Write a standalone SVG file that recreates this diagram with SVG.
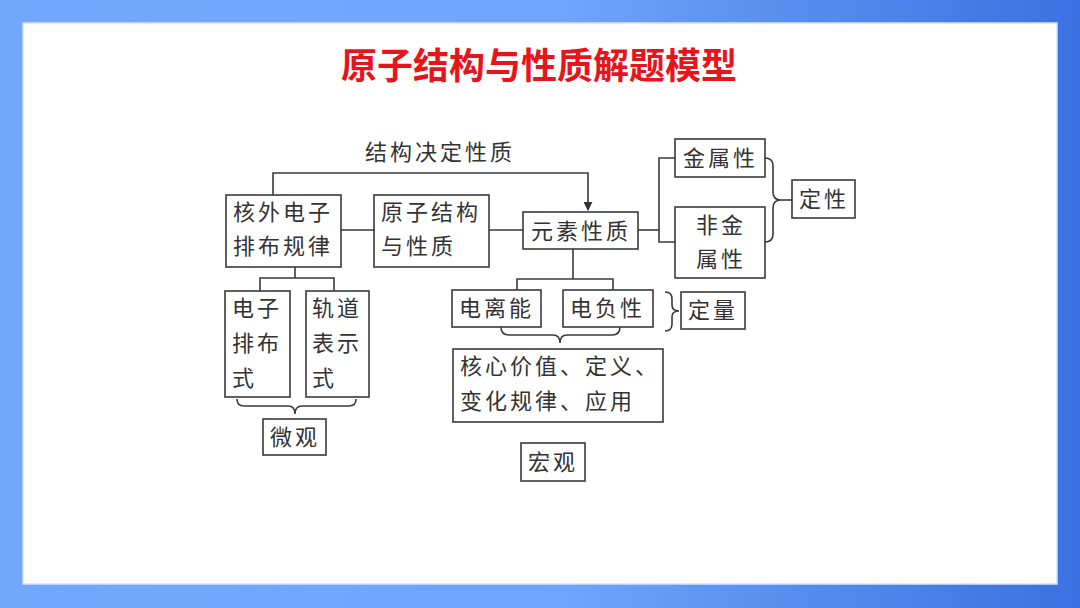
<svg xmlns="http://www.w3.org/2000/svg" width="1080" height="608" viewBox="0 0 1080 608">
<defs>
<linearGradient id="bg" x1="0" y1="0" x2="1" y2="0">
<stop offset="0" stop-color="#72A8FC"/>
<stop offset="0.52" stop-color="#6FA5FB"/>
<stop offset="1" stop-color="#3B70E0"/>
</linearGradient>
<marker id="arr" viewBox="0 0 10 10" refX="9" refY="5" markerWidth="9" markerHeight="9" markerUnits="userSpaceOnUse" orient="auto">
<path d="M0,0 L10,5 L0,10 Z" fill="#333"/>
</marker>
<style>
.box{fill:#fff;stroke:#3a3a3a;stroke-width:1.6}
.ln{fill:none;stroke:#3a3a3a;stroke-width:1.6}
.t{font-family:"Noto Sans CJK SC","Noto Sans CJK JP",sans-serif;font-size:22px;fill:#333;letter-spacing:3px}
.title{font-family:"Noto Sans CJK SC",sans-serif;font-size:36px;font-weight:bold;fill:#E8141B}
</style>
</defs>
<rect x="0" y="0" width="1080" height="608" fill="url(#bg)"/>
<rect x="23" y="23" width="1034" height="561" fill="#fff" stroke="#CFE2FF" stroke-width="1.5"/>
<text class="title" x="539" y="79" text-anchor="middle">原子结构与性质解题模型</text>

<g id="connectors">
<text class="t" x="365" y="160">结构决定性质</text>
<path class="ln" d="M273,195 V173 H588 V210" marker-end="url(#arr)"/>
<path class="ln" d="M341,230 H374"/>
<path class="ln" d="M489,230 H523"/>
<path class="ln" d="M638,230 H659"/>
<path class="ln" d="M675,158 H659 V242 H675"/>
<path class="ln" d="M765,158 Q773,158 773,166 L773,192 Q773,200 781,200 Q773,200 773,208 L773,234 Q773,242 765,242"/>
<path class="ln" d="M781,200 H792"/>
<path class="ln" d="M573,249 V279"/>
<path class="ln" d="M517,290 V279 H613 V290"/>
<path class="ln" d="M501,327 Q501,335 509,335 L553,335 Q560,335 560,343 Q560,335 567,335 L612,335 Q620,335 620,327"/>
<path class="ln" d="M665,292 Q672,292 672,299 L672,305 Q672,311 679,311 Q672,311 672,317 L672,324 Q672,331 665,331"/>
<path class="ln" d="M295,267 V278"/>
<path class="ln" d="M260,291 V278 H334 V291"/>
<path class="ln" d="M237,399 Q237,406 244,406 L288,406 Q295,406 295,414 Q295,406 302,406 L349,406 Q356,406 356,399"/>
</g>

<g id="n-hewai">
<rect class="box" x="226" y="195" width="115" height="72"/>
<text class="t" x="233" y="220">核外电子</text>
<text class="t" x="233" y="254">排布规律</text>
</g>
<g id="n-yuanzi">
<rect class="box" x="374" y="195" width="115" height="72"/>
<text class="t" x="381" y="220">原子结构</text>
<text class="t" x="381" y="254">与性质</text>
</g>
<g id="n-yuansu">
<rect class="box" x="523" y="212" width="115" height="37"/>
<text class="t" x="531" y="239">元素性质</text>
</g>
<g id="n-jinshu">
<rect class="box" x="675" y="139" width="90" height="38"/>
<text class="t" x="683" y="166">金属性</text>
</g>
<g id="n-feijinshu">
<rect class="box" x="675" y="207" width="90" height="71"/>
<text class="t" x="721" y="233" text-anchor="middle">非金</text>
<text class="t" x="721" y="267" text-anchor="middle">属性</text>
</g>
<g id="n-dingxing">
<rect class="box" x="792" y="180" width="63" height="38"/>
<text class="t" x="799" y="207">定性</text>
</g>
<g id="n-dianlineng">
<rect class="box" x="452" y="290" width="89" height="37"/>
<text class="t" x="459" y="316">电离能</text>
</g>
<g id="n-dianfuxing">
<rect class="box" x="563" y="290" width="90" height="37"/>
<text class="t" x="570" y="316">电负性</text>
</g>
<g id="n-dingliang">
<rect class="box" x="681" y="292" width="64" height="37"/>
<text class="t" x="688" y="318">定量</text>
</g>
<g id="n-hexin">
<rect class="box" x="453" y="349" width="210" height="73"/>
<text class="t" x="460" y="374">核心价值、定义、</text>
<text class="t" x="460" y="409">变化规律、应用</text>
</g>
<g id="n-hongguan">
<rect class="box" x="521" y="443" width="64" height="38"/>
<text class="t" x="528" y="470">宏观</text>
</g>
<g id="n-dianzi">
<rect class="box" x="225" y="291" width="65" height="106"/>
<text class="t" x="232" y="316">电子</text>
<text class="t" x="232" y="351">排布</text>
<text class="t" x="232" y="386">式</text>
</g>
<g id="n-guidao">
<rect class="box" x="306" y="291" width="63" height="106"/>
<text class="t" x="312" y="316">轨道</text>
<text class="t" x="312" y="351">表示</text>
<text class="t" x="312" y="386">式</text>
</g>
<g id="n-weiguan">
<rect class="box" x="263" y="419" width="63" height="36"/>
<text class="t" x="270" y="445">微观</text>
</g>
</svg>
